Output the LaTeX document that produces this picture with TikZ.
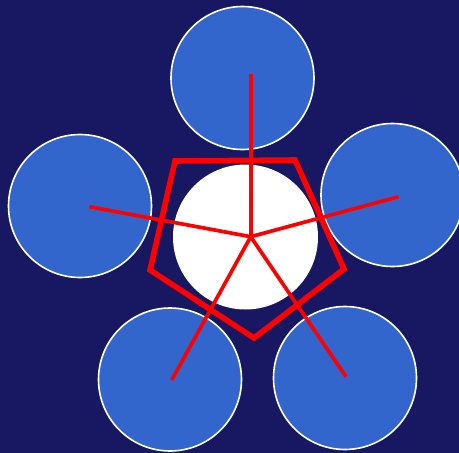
\documentclass[tikz,border=0pt]{standalone}
\definecolor{bgnavy}{HTML}{171762}
\definecolor{petal}{HTML}{3366CC}
\definecolor{redline}{HTML}{FF0000}
\begin{document}
\begin{tikzpicture}[x=1pt,y=-1pt,
  petalnode/.style={circle,fill=petal,draw=white,line width=1.6pt,minimum size=143pt,inner sep=0pt},
  hubnode/.style={circle,fill=white,draw=none,minimum size=145pt,inner sep=0pt},
  pentaline/.style={draw=redline,line width=5.6pt,line join=miter},
  spokeline/.style={draw=redline,line width=3.7pt}]
\fill[bgnavy] (0,0) rectangle (459,453);
\useasboundingbox (0,0) rectangle (459,453);
\node[petalnode] (top) at (242.5,78) {};
\node[petalnode] (left) at (80,206) {};
\node[petalnode] (right) at (392.5,195) {};
\node[petalnode] (bl) at (170,379.5) {};
\node[petalnode] (br) at (345,378) {};
\node[hubnode] (hub) at (245.5,237) {};
\coordinate (p1) at (175,161);
\coordinate (p2) at (295,160);
\coordinate (p3) at (344,269);
\coordinate (p4) at (254,338);
\coordinate (p5) at (150,270);
\draw[pentaline] (p1) -- (p2) -- (p3) -- (p4) -- (p5) -- cycle;
\coordinate (c) at (250.7,236.7);
\coordinate (e1) at (250.7,74);
\coordinate (e2) at (398.7,196.7);
\coordinate (e3) at (346,376.7);
\coordinate (e4) at (171.7,380);
\coordinate (e5) at (89.3,206.7);
\foreach \e in {e1,e2,e3,e4,e5} \draw[spokeline] (c) -- (\e);
\end{tikzpicture}
\end{document}
